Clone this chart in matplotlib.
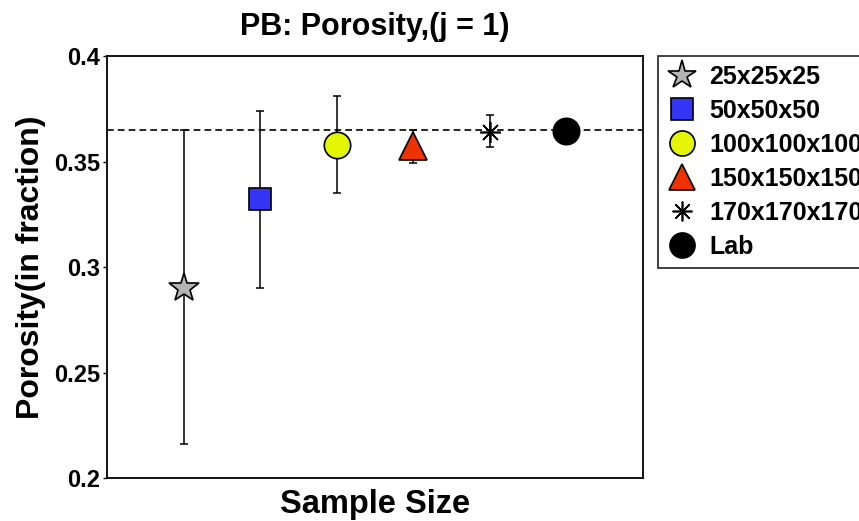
import matplotlib
matplotlib.use('Agg')
import matplotlib.pyplot as plt

# ── Data ─────────────────────────────────────────────────────────────
labels   = ['25x25x25', '50x50x50', '100x100x100', '150x150x150',
            '170x170x170', 'Lab']
x_pos    = [1, 2, 3, 4, 5, 6]
porosity = [0.290, 0.332, 0.358, 0.3575, 0.364, 0.3645]
err_low  = [0.216, 0.290, 0.335, 0.3495, 0.357, None]
err_high = [0.365, 0.374, 0.381, 0.365, 0.372, None]
lab_value = 0.3648
yticks   = [0.2, 0.25, 0.3, 0.35, 0.4]
ytick_labels = ['0.2', '0.25', '0.3', '0.35', '0.4']

# ── Styles ───────────────────────────────────────────────────────────
MARKERS = ['*', 's', 'o', '^', (8, 2, 0), 'o']
FACES   = ['#b4b4b4', '#3535f5', '#e4f500', '#ee3300', 'black', 'black']
SIZES   = [22, 16, 19, 20, 15, 19]

plt.rcParams['font.family'] = ['Liberation Sans', 'DejaVu Sans']
plt.rcParams['font.weight'] = 'bold'

fig = plt.figure(figsize=(8.59, 5.21), dpi=100)
ax = fig.add_axes([0.1246, 0.0825, 0.624, 0.81])

ax.axhline(lab_value, color='black', linestyle='--', linewidth=1.2,
           dashes=(4, 2.5), zorder=1)

handles = []
for i in range(len(labels)):
    if err_low[i] is not None:
        ax.errorbar(x_pos[i], porosity[i],
                    yerr=[[porosity[i] - err_low[i]], [err_high[i] - porosity[i]]],
                    fmt='none', ecolor='black', elinewidth=1.1,
                    capsize=3, capthick=1.1, zorder=2)
    h, = ax.plot(x_pos[i], porosity[i], linestyle='none',
                 marker=MARKERS[i], markersize=SIZES[i],
                 markerfacecolor=FACES[i], markeredgecolor='black',
                 markeredgewidth=1.2, label=labels[i], zorder=3)
    handles.append(h)

ax.set_xlim(0, 7)
ax.set_ylim(0.2, 0.4)
ax.set_xticks([])
ax.set_yticks(yticks)
ax.set_yticklabels(ytick_labels, fontsize=17, fontweight='bold')
ax.tick_params(axis='y', direction='out', length=3, width=1, pad=2)
for sp in ax.spines.values():
    sp.set_linewidth(1.3)

ax.set_title('PB: Porosity,(j = 1)', fontsize=22, fontweight='bold', pad=15)
ax.set_ylabel('Porosity(in fraction)', fontsize=23, fontweight='bold', labelpad=6)
ax.set_xlabel('Sample Size', fontsize=23.5, fontweight='bold', labelpad=8)

leg = fig.legend(handles=handles, loc='upper left',
                 bbox_to_anchor=(658 / 859, 1 - 56 / 521),
                 fontsize=18, frameon=True, fancybox=False,
                 edgecolor='black', handlelength=1.2, handletextpad=0.5,
                 labelspacing=0.4, borderpad=0.35, borderaxespad=0,
                 markerscale=0.95)
leg.get_frame().set_linewidth(1.3)
for t in leg.get_texts():
    t.set_fontweight('bold')

fig.savefig('out.png', dpi=100)
